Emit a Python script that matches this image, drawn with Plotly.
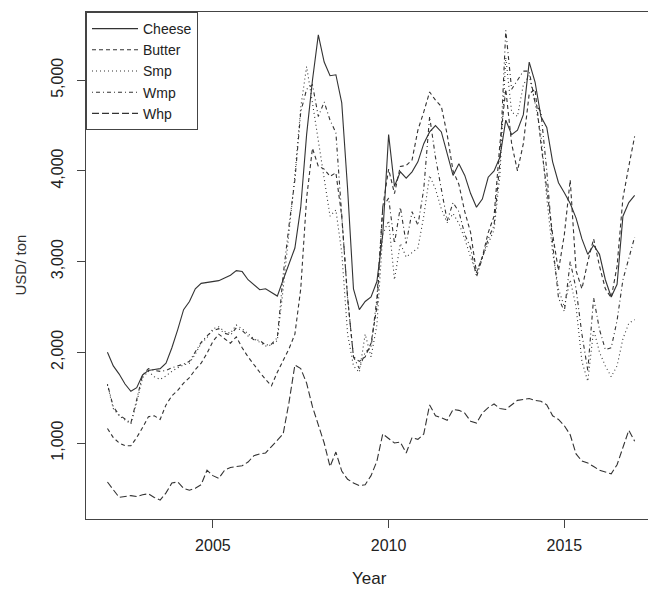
import plotly.graph_objects as go

# Bimonthly observation dates, 2002 through 2017
year = [2002 + k / 6 for k in range(91)]

cheese = [2000, 1850, 1760, 1650, 1570, 1610, 1750, 1800, 1810, 1820, 1880, 2050,
          2250, 2470, 2560, 2700, 2760, 2770, 2780, 2790, 2820, 2850, 2900, 2890,
          2800, 2740, 2690, 2700, 2660, 2620, 2800, 2980, 3150, 3600, 4400, 5000,
          5500, 5200, 5050, 5060, 4750, 3800, 2700, 2470, 2560, 2610, 2780, 3300,
          4400, 3830, 3990, 3920, 3990, 4100, 4300, 4430, 4500, 4430, 4200, 3950,
          4080, 3950, 3750, 3600, 3690, 3930, 4000, 4150, 4560, 4400, 4450, 4620,
          5200, 4980, 4600, 4480, 4100, 3870, 3760, 3640, 3480, 3250, 3080, 3180,
          3080, 2800, 2610, 2750, 3500, 3650, 3730]

butter = [1160, 1060, 1000, 970, 970, 1060, 1170, 1290, 1300, 1260, 1420, 1520,
          1580, 1660, 1720, 1810, 1880, 1990, 2120, 2200, 2150, 2100, 2170, 2050,
          1950, 1860, 1780, 1700, 1630, 1780, 1910, 2040, 2200, 2700, 3700, 4250,
          4050, 4020, 3940, 3980, 3500, 2600, 1950, 1900, 1950, 2100, 2500, 3600,
          4020, 3750, 4050, 4060, 4120, 4450, 4650, 4870, 4780, 4710, 4400, 4000,
          3850, 3550, 3320, 2880, 3050, 3320, 3500, 4300, 4900, 4300, 4000, 4300,
          4850, 4900, 4300, 3800, 3300, 2900, 3300, 3900, 2900, 2700, 3000, 3250,
          2950, 2700, 2600, 2950, 3700, 4050, 4380]

smp = [1640, 1380, 1300, 1250, 1210, 1450, 1720, 1790, 1730, 1700, 1740, 1790,
       1830, 1860, 1880, 1980, 2100, 2160, 2260, 2280, 2230, 2210, 2300, 2260,
       2200, 2150, 2110, 2070, 2080, 2130, 2700, 3350, 3950, 4700, 5150, 4750,
       4350, 3950, 3500, 3570, 3100, 2200, 1850, 1780, 2200, 1950, 2300, 3300,
       3450, 2800, 3200, 3050, 3100, 3150, 3500, 3950, 3800, 3580, 3430, 3530,
       3420, 3250, 3050, 2870, 3050, 3200, 3350, 3950, 5250, 4650, 4600, 4950,
       5050, 4750, 4400, 3700, 3100, 2700, 2500, 2800, 2500, 1900, 1680, 2250,
       2000, 1850, 1730, 1850, 2150, 2320, 2360]

wmp = [1650, 1400, 1310, 1260, 1220, 1480, 1750, 1820, 1800, 1790, 1800, 1830,
       1850, 1870, 1900, 2000, 2110, 2180, 2240, 2260, 2210, 2190, 2270, 2240,
       2180, 2140, 2130, 2080, 2090, 2160, 2850, 3400, 3900, 4650, 4900, 4950,
       4600, 4760, 4560, 4420, 3500, 2600, 1950, 1820, 2000, 2050, 2600, 3600,
       3700, 3200, 3600, 3200, 3550, 3400, 3800, 4600, 4150, 3800, 3450, 3650,
       3550, 3300, 3150, 2830, 3050, 3250, 3400, 4100, 5550, 4900, 5000, 5100,
       5100, 4750, 4650, 4000, 3200, 2600, 2450, 3000, 2700, 2200, 1800, 2600,
       2250, 2030, 2050, 2350, 2800, 3050, 3270]

whp = [570, 480, 400, 410, 420, 410, 430, 440, 400, 370, 450, 560,
       570, 500, 480, 500, 540, 700, 640, 610, 700, 730, 740, 750,
       790, 860, 880, 890, 960, 1030, 1100, 1450, 1860, 1820, 1660, 1400,
       1200, 1000, 740, 900, 690, 600, 560, 530, 540, 640, 800, 1100,
       1050, 1000, 1010, 890, 1060, 1040, 1100, 1420, 1300, 1280, 1250, 1370,
       1360, 1330, 1240, 1220, 1330, 1390, 1430, 1380, 1370, 1420, 1470, 1480,
       1490, 1470, 1460, 1420, 1300, 1260, 1190, 1090, 880, 800, 780, 740,
       700, 680, 660, 760, 960, 1140, 1020]

series = [
    ("Cheese", cheese, "solid"),
    ("Butter", butter, "4px,3px"),
    ("Smp", smp, "1px,3px"),
    ("Wmp", wmp, "1px,3px,4px,3px"),
    ("Whp", whp, "7px,3px"),
]

ink = "#333333"
frame = "#444444"
text_color = "#222222"
font_family = "Liberation Sans, Arial, sans-serif"

fig = go.Figure()
for name, values, dash in series:
    fig.add_trace(go.Scatter(
        x=year, y=values, name=name, mode="lines",
        line=dict(color=ink, width=1.1, dash=dash),
    ))

fig.update_layout(
    width=648, height=590,
    margin=dict(l=86, r=0, t=12, b=71),
    paper_bgcolor="white", plot_bgcolor="white",
    font=dict(family=font_family, color=text_color, size=16),
    showlegend=True,
    legend=dict(
        x=0, y=1, xanchor="left", yanchor="top",
        bgcolor="white", bordercolor=frame, borderwidth=1,
        font=dict(size=14, color=text_color),
        itemwidth=46, tracegroupgap=0,
    ),
    xaxis=dict(
        range=[2001.39, 2017.38],
        tickvals=[2005, 2010, 2015],
        ticks="outside", ticklen=8, tickcolor=frame, tickwidth=1,
        showline=True, linecolor=frame, linewidth=1.2, mirror=True,
        showgrid=False, zeroline=False,
        tickfont=dict(size=16, color=text_color),
        ticklabelstandoff=4,
    ),
    yaxis=dict(
        range=[162, 5752],
        tickvals=[1000, 2000, 3000, 4000, 5000],
        tickformat=",d",
        tickangle=-90,
        ticks="outside", ticklen=8, tickcolor=frame, tickwidth=1,
        showline=True, linecolor=frame, linewidth=1.2, mirror=False,
        showgrid=False, zeroline=False,
        tickfont=dict(size=16, color=text_color),
        ticklabelstandoff=8,
    ),
    annotations=[
        dict(text="Year", xref="paper", yref="paper", x=0.5036, y=-0.1164,
             xanchor="center", yanchor="middle", showarrow=False,
             font=dict(size=17, color=text_color)),
        dict(text="USD/ ton", xref="paper", yref="paper", x=-0.1174, y=0.5,
             xanchor="center", yanchor="middle", textangle=-90, showarrow=False,
             font=dict(size=15, color="#333333")),
    ],
)

fig.write_html("out.html")
